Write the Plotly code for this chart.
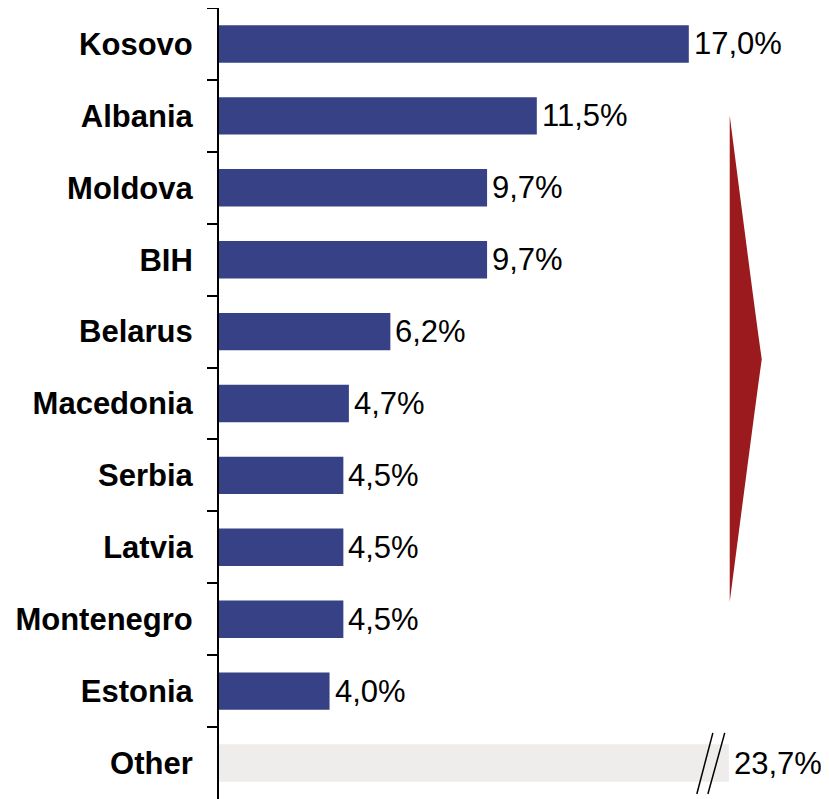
import plotly.graph_objects as go

# data, top to bottom
countries = ['Kosovo', 'Albania', 'Moldova', 'BIH', 'Belarus', 'Macedonia',
             'Serbia', 'Latvia', 'Montenegro', 'Estonia', 'Other']
shares = [17.0, 11.5, 9.7, 9.7, 6.2, 4.7, 4.5, 4.5, 4.5, 4.0, 23.7]
labels = ['17,0%', '11,5%', '9,7%', '9,7%', '6,2%', '4,7%',
          '4,5%', '4,5%', '4,5%', '4,0%', '23,7%']

OTHER_CAP = 18.45  # "Other" bar is drawn broken at this length
navy = '#374185'
grey = '#EEEDEB'
red = '#9B1A1D'
font = 'Liberation Sans, Arial, sans-serif'

shown = [min(v, OTHER_CAP) for v in shares]
colors = [grey if c == 'Other' else navy for c in countries]

fig = go.Figure(go.Bar(x=shown, y=countries, orientation='h', width=0.52,
                       marker_color=colors, marker_line_width=0, hoverinfo='skip'))

# value labels at the end of each bar
for c, v, t in zip(countries, shown, labels):
    fig.add_annotation(x=v, y=c, text=t, showarrow=False, xanchor='left',
                       xshift=3, font=dict(family=font, size=31, color='black'))

# break marks on the "Other" bar
oi = countries.index('Other')
for x0, x1 in [(17.29, 17.87), (17.69, 18.30)]:
    fig.add_shape(type='line', xref='x', yref='y', x0=x0, x1=x1,
                  y0=oi + 0.43, y1=oi - 0.42, line=dict(color='black', width=1.5))

# red arrow head on the right
fig.add_shape(type='path', xref='x', yref='paper', fillcolor=red, line_width=0,
              path='M 18.48 0.864 Q 19.45 0.60 19.64 0.556 Q 19.45 0.51 18.48 0.249 Z')

fig.update_xaxes(range=[0, 22], visible=False)
fig.update_yaxes(autorange='reversed', showline=True, linecolor='black', linewidth=2,
                 ticks='outside', tickson='boundaries', ticklen=10, tickwidth=2,
                 tickcolor='black', ticklabelstandoff=18, showgrid=False,
                 tickfont=dict(family=font, size=31, color='black', weight='bold'))
# page body has an 8px margin, so the figure is sized to sit inside the window
fig.update_layout(width=821, height=791, margin=dict(l=211, r=2, t=0, b=0),
                  plot_bgcolor='white', paper_bgcolor='white', showlegend=False,
                  bargap=0.48)

fig.write_html('out.html')
